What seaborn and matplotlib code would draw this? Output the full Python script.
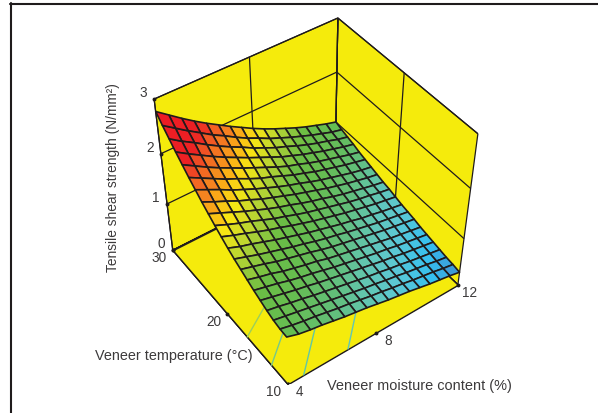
import numpy as np
import matplotlib
matplotlib.use('Agg')
import matplotlib.pyplot as plt
from matplotlib.lines import Line2D
from mpl_toolkits.mplot3d import proj3d
import seaborn as sns

# veneer moisture content (%), columns of the surface
moisture = [4.0, 4.5, 5.0, 5.5, 6.0, 6.5, 7.0, 7.5, 8.0, 8.5, 9.0, 9.5, 10.0, 10.5, 11.0, 11.5, 12.0]
# veneer temperature (deg C), rows of the surface
temperature = [10, 11, 12, 13, 14, 15, 16, 17, 18, 19, 20, 21, 22, 23, 24, 25, 26, 27, 28, 29, 30]
# tensile shear strength (N/mm2)
strength = [
    [1.04, .96, .91, .87, .82, .77, .73, .69, .64, .59, .55, .51, .46, .41, .37, .33, .28],
    [1.05, .99, .94, .90, .85, .80, .76, .71, .66, .62, .57, .53, .48, .44, .40, .35, .31],
    [1.08, 1.03, .98, .93, .88, .83, .78, .73, .68, .64, .59, .55, .50, .46, .42, .37, .33],
    [1.13, 1.08, 1.02, .97, .91, .86, .81, .76, .71, .66, .62, .57, .53, .48, .44, .40, .36],
    [1.19, 1.13, 1.07, 1.01, .96, .90, .85, .80, .75, .70, .65, .60, .56, .51, .47, .43, .39],
    [1.25, 1.19, 1.13, 1.06, 1.00, .95, .89, .83, .78, .73, .68, .63, .59, .54, .50, .46, .42],
    [1.32, 1.25, 1.19, 1.11, 1.05, .99, .94, .87, .82, .77, .72, .67, .62, .57, .53, .49, .45],
    [1.39, 1.32, 1.25, 1.17, 1.11, 1.05, .99, .92, .86, .81, .76, .71, .66, .61, .57, .53, .49],
    [1.46, 1.38, 1.30, 1.23, 1.16, 1.09, 1.03, .96, .90, .85, .79, .74, .69, .64, .60, .56, .52],
    [1.54, 1.45, 1.38, 1.30, 1.22, 1.15, 1.08, 1.01, .95, .89, .83, .78, .72, .68, .63, .59, .55],
    [1.63, 1.54, 1.46, 1.37, 1.29, 1.22, 1.14, 1.07, 1.00, .94, .88, .82, .77, .72, .67, .63, .59],
    [1.72, 1.62, 1.53, 1.45, 1.36, 1.27, 1.20, 1.12, 1.05, .99, .93, .87, .81, .76, .72, .67, .63],
    [1.82, 1.72, 1.62, 1.52, 1.43, 1.34, 1.26, 1.19, 1.11, 1.04, .98, .91, .85, .80, .75, .70, .66],
    [1.92, 1.81, 1.71, 1.60, 1.51, 1.41, 1.33, 1.25, 1.17, 1.10, 1.03, .96, .90, .84, .79, .74, .70],
    [2.03, 1.92, 1.81, 1.69, 1.59, 1.49, 1.40, 1.31, 1.23, 1.16, 1.08, 1.01, .95, .89, .83, .78, .74],
    [2.14, 2.02, 1.90, 1.78, 1.68, 1.57, 1.47, 1.39, 1.30, 1.21, 1.14, 1.06, 1.00, .94, .88, .83, .78],
    [2.26, 2.13, 2.00, 1.88, 1.77, 1.66, 1.56, 1.46, 1.36, 1.27, 1.20, 1.12, 1.05, .99, .93, .87, .82],
    [2.38, 2.24, 2.11, 1.98, 1.86, 1.75, 1.64, 1.54, 1.44, 1.34, 1.26, 1.18, 1.11, 1.04, .98, .92, .87],
    [2.51, 2.36, 2.23, 2.09, 1.96, 1.84, 1.73, 1.61, 1.51, 1.41, 1.33, 1.24, 1.16, 1.09, 1.03, .96, .91],
    [2.64, 2.49, 2.34, 2.20, 2.06, 1.94, 1.81, 1.69, 1.59, 1.48, 1.39, 1.30, 1.22, 1.14, 1.07, 1.00, .95],
    [2.78, 2.62, 2.46, 2.31, 2.17, 2.04, 1.91, 1.79, 1.67, 1.56, 1.46, 1.37, 1.28, 1.20, 1.13, 1.06, 1.00],
]
moisture_ticks = [4, 8, 12]
temperature_ticks = [10, 20, 30]
strength_ticks = [0, 1, 2, 3]
# coloured skirt lines under the near edges of the surface
skirt_moisture = [[4, 4], [4, 4], [4.7, 5.2], [6.7, 7.0]]
skirt_temperature = [[16.6, 13.4], [12.6, 10.6], [10, 10], [10, 10]]
skirt_strength = [[0, 1.14], [0, 1.02], [0, .89], [0, .73]]
skirt_colors = ['#9CCF5A', '#74C98A', '#62C6A5', '#62C6B5']

W, H = 598, 414
INK = '#1f1b1c'
TXT = '#3c3a3b'
PANE = '#F5EB0C'

sns.set_style('white')
plt.rcParams['font.family'] = ['Liberation Sans', 'DejaVu Sans']
plt.rcParams['font.size'] = 9.8

colors = ['#3F8FD0', '#35C0F0', '#5CC8D4', '#62C6B0', '#62BE78', '#66BD52', '#6ABD45', '#B5D334', '#F7E714', '#FBB116', '#F58220', '#F15A24', '#ED2024', '#ED1C24']
stops = [.28, .40, .55, .68, .82, 1.0, 1.2, 1.42, 1.62, 1.78, 1.92, 2.08, 2.25, 2.78]
cmap = matplotlib.colors.LinearSegmentedColormap.from_list(
    'strength', [((s - .28) / 2.5, c) for s, c in zip(stops, sns.color_palette(colors))])

fig = plt.figure(figsize=(W / 100, H / 100), dpi=100)
ax = fig.add_subplot(projection='3d', computed_zorder=False)
L = 363.4
ax.set_position([126.87 / W, 29.9 / H, L / W, L / H])
ax.patch.set_alpha(0)
ax.set_xlim(4, 12, view_margin=0)
ax.set_ylim(10, 30, view_margin=0)
ax.set_zlim(0, 3, view_margin=0)
ax.view_init(elev=45.34, azim=-125.8, roll=-0.05)
ax.set_proj_type('persp', focal_length=0.6115)
ax.set_box_aspect((1.016, 1.012, 1))

for axis in (ax.xaxis, ax.yaxis, ax.zaxis):
    axis.set_pane_color(PANE)
    axis.pane.set_edgecolor(INK)
    axis.pane.set_linewidth(0.9)
    axis.line.set_color(INK)
    axis.line.set_linewidth(0.9)
    axis._axinfo['grid'].update(color=INK, linewidth=0.9)
    axis._axinfo['tick'].update(inward_factor=0, outward_factor=0)
ax.set_xticks(moisture_ticks)
ax.set_yticks(temperature_ticks)
ax.set_zticks(strength_ticks)
ax.set_xticklabels([])
ax.set_yticklabels([])
ax.set_zticklabels([])

# the floor has no grid lines, so paint it over them
ax.plot_surface(np.array([[4, 12], [4, 12]]), np.array([[10, 10], [30, 30]]), np.zeros((2, 2)),
                color=PANE, shade=False, edgecolor=INK, linewidth=1.0, zorder=1)

X, Y = np.meshgrid(moisture, temperature)
ax.plot_surface(X, Y, np.array(strength), rstride=1, cstride=1, cmap=cmap, vmin=.28, vmax=2.78,
                edgecolor=INK, linewidth=1.2, shade=False, zorder=3)
for sm, st, ss, c in zip(skirt_moisture, skirt_temperature, skirt_strength, skirt_colors):
    ax.plot(sm, st, ss, color=c, lw=1, zorder=2)

# tick dots and labels sit at the projected corner positions
proj = ax.get_proj()
def tick(m, t, z, label, dx, dy):
    vx, vy, _ = proj3d.proj_transform(m, t, z, proj)
    px, py = ax.transData.transform((vx, vy))
    ax.plot([m], [t], [z], marker='o', ms=1.8, color=INK, zorder=5)
    fig.text((px + dx) / W, (py + dy) / H, label, ha='center', va='center', color=TXT)

for z in strength_ticks:
    tick(4, 30, z, str(z), -11, 7)
for t in temperature_ticks:
    tick(4, t, 0, str(t), -14, -7)
for m in moisture_ticks:
    tick(m, 10, 0, str(m), 12, -7)

fig.text(419.5 / W, 1 - 386 / H, 'Veneer moisture content (%)', ha='center', va='center', color=TXT, fontsize=10.45)
fig.text(174 / W, 1 - 356 / H, 'Veneer temperature (°C)', ha='center', va='center', color=TXT, fontsize=10.4)
fig.text(113 / W, 1 - 177.5 / H, 'Tensile shear strength (N/mm²)', rotation=90, ha='center', va='center', color=TXT, fontsize=9.9)

fig.add_artist(Line2D([10 / W, 1], [1 - 5 / H, 1 - 5 / H], color=INK, lw=1.5))
fig.add_artist(Line2D([11 / W, 11 / W], [1 - 4 / H, 0], color=INK, lw=1.5))

fig.savefig('out.png', dpi=100)
